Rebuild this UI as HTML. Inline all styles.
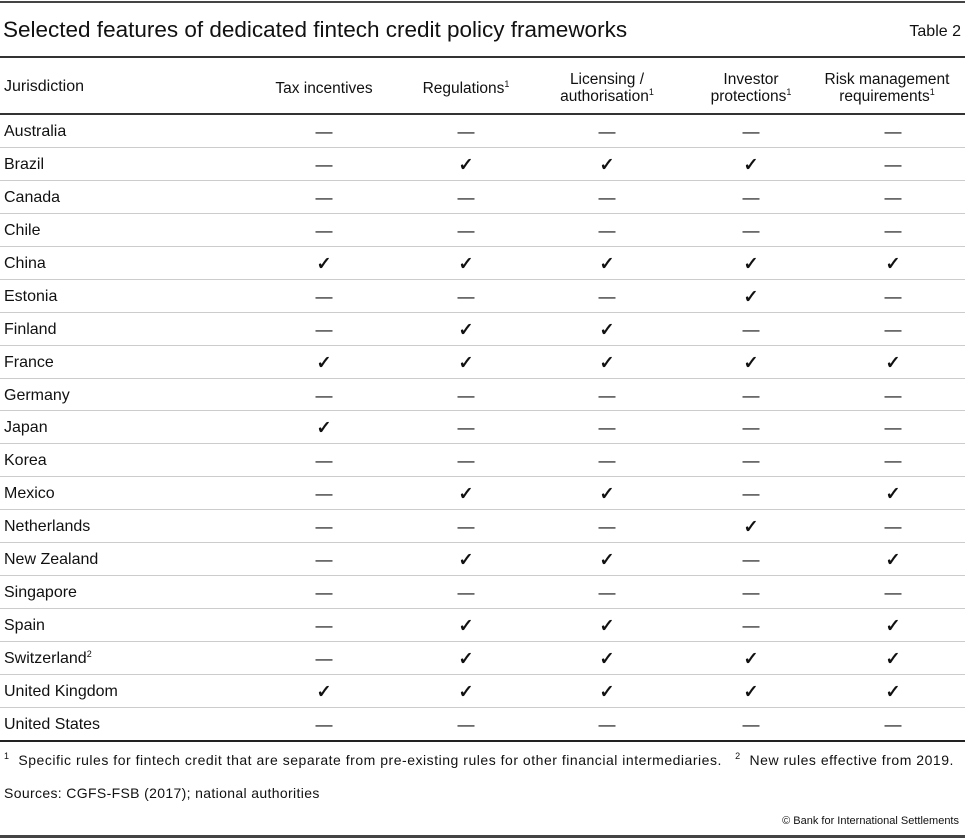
<!DOCTYPE html>
<html><head><meta charset="utf-8"><style>
body{margin:0;width:965px;height:839px;background:#fff;position:relative;font-family:"Liberation Sans",sans-serif;color:#111;overflow:hidden}
.a{position:absolute;white-space:nowrap}
.hl{position:absolute;left:0;width:965px}
.c{position:absolute;transform:translateX(-50%);text-align:center;white-space:nowrap;font-size:15.5px;line-height:17px}
sup{font-size:9px;vertical-align:6px;line-height:0}
.r{position:absolute;left:4px;font-size:16px}
.m{position:absolute;transform:translate(-50%,-50%);font-size:17px}
.k{font-weight:bold;font-size:18px}
</style></head><body>
<div class="hl" style="top:1px;height:2px;background:#444"></div>
<div class="a" style="left:3px;top:17px;font-size:22.5px">Selected features of dedicated fintech credit policy frameworks</div>
<div class="a" style="right:4px;top:23px;font-size:16px">Table 2</div>
<div class="hl" style="top:56px;height:2px;background:#333"></div>
<div class="a" style="left:4px;top:78px;font-size:16px">Jurisdiction</div>
<div class="c" style="left:324px;top:80px">Tax incentives</div>
<div class="c" style="left:466px;top:80px">Regulations<sup>1</sup></div>
<div class="c" style="left:607px;top:71px">Licensing /<br>authorisation<sup>1</sup></div>
<div class="c" style="left:751px;top:71px">Investor<br>protections<sup>1</sup></div>
<div class="c" style="left:887px;top:71px">Risk management<br>requirements<sup>1</sup></div>
<div class="hl" style="top:113px;height:2px;background:#333"></div>
<div id="rows"></div>
<div class="hl" style="top:740px;height:2px;background:#222"></div>
<div class="a" style="left:4px;top:752px;font-size:14px;letter-spacing:0.52px"><sup>1</sup>&nbsp; Specific rules for fintech credit that are separate from pre-existing rules for other financial intermediaries. &nbsp;&nbsp;<sup>2</sup>&nbsp; New rules effective from 2019.</div>
<div class="a" style="left:4px;top:785px;font-size:14px;letter-spacing:0.35px">Sources: CGFS-FSB (2017); national authorities</div>
<div class="a" style="right:6px;top:815px;font-size:11px">© Bank for International Settlements</div>
<div class="hl" style="top:835px;height:3px;background:#444"></div>
<script>
var d=[["Australia","00000"],["Brazil","01110"],["Canada","00000"],["Chile","00000"],["China","11111"],["Estonia","00010"],["Finland","01100"],["France","11111"],["Germany","00000"],["Japan","10000"],["Korea","00000"],["Mexico","01101"],["Netherlands","00010"],["New Zealand","01101"],["Singapore","00000"],["Spain","01101"],["Switzerland<sup>2</sup>","01111"],["United Kingdom","11111"],["United States","00000"]];
var xs=[324,466,607,751,893],h="";
d.forEach(function(r,i){var cy=131+i*32.94;
h+='<div class="r" style="top:'+(cy-8)+'px">'+r[0]+'</div>';
for(var j=0;j<5;j++){h+=(r[1][j]=="1"?'<div class="m k" style="left:'+xs[j]+'px;top:'+(cy+1)+'px">✓</div>':'<div class="m" style="left:'+xs[j]+'px;top:'+(cy+1)+'px">—</div>');}
if(i<18)h+='<div class="hl" style="top:'+(114+(i+1)*32.94)+'px;height:1px;background:#ccc"></div>';});
document.getElementById("rows").innerHTML=h;
</script>
</body></html>
